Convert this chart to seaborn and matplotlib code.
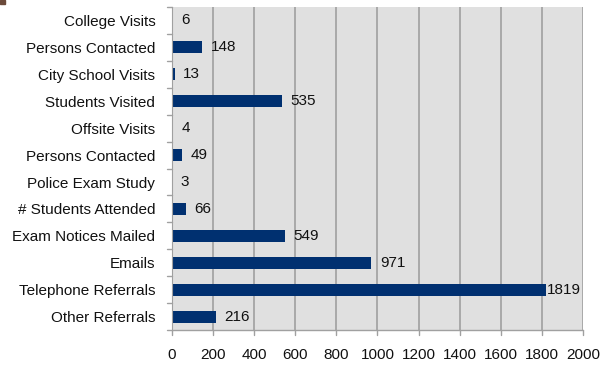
import pandas as pd
import seaborn as sns
import matplotlib.pyplot as plt
import matplotlib.patches as mpatches

categories = ['College Visits', 'Persons Contacted', 'City School Visits',
              'Students Visited', 'Offsite Visits', 'Persons Contacted ',
              'Police Exam Study', '# Students Attended', 'Exam Notices Mailed',
              'Emails', 'Telephone Referrals', 'Other Referrals']
counts = [6, 148, 13, 535, 4, 49, 3, 66, 549, 971, 1819, 216]
xticks = [0, 200, 400, 600, 800, 1000, 1200, 1400, 1600, 1800, 2000]

df = pd.DataFrame({'category': categories, 'count': counts})

sns.set_style('white')
plt.rcParams['font.family'] = ['Liberation Sans', 'DejaVu Sans']

fig = plt.figure(figsize=(6.11, 3.68), dpi=100)
ax = fig.add_axes([0.2815, 0.103, 0.6725, 0.878])
ax.set_facecolor('#e0e0e0')

sns.barplot(data=df, y='category', x='count', color='#003070', width=0.45,
            saturation=1, linewidth=0, ax=ax, zorder=3)

for i, v in enumerate(counts):
    off = 1 if v > 1800 else 6
    ax.annotate(str(v), (v, i), xytext=(off, 0), textcoords='offset points',
                va='center', ha='left', fontsize=11, color='#111111', zorder=4)

ax.set_xlim(0, 2000)
ax.set_xticks(xticks)
ax.set_xticklabels([str(t) for t in xticks], fontsize=11, color='#111111')
ax.set_yticks(range(len(categories)))
ax.set_yticklabels([c.strip() for c in categories], fontsize=11, color='#111111')
ax.set_ylim(len(categories) - 0.5, -0.5)
ax.set_xlabel('')
ax.set_ylabel('')

ax.grid(axis='x', color='#a0a0a0', linewidth=1.2, zorder=0)
ax.set_axisbelow(True)
for s in ['top', 'right', 'bottom']:
    ax.spines[s].set_visible(False)
ax.spines['left'].set_color('#a0a0a0')
ax.spines['left'].set_zorder(5)

# left ticks between categories
ax.tick_params(axis='y', length=0, pad=12)
ax.tick_params(axis='x', length=0, pad=13)
for b in range(len(categories) + 1):
    ax.plot([-0.012, 0], [b - 0.5, b - 0.5], transform=ax.get_yaxis_transform(),
            color='#a0a0a0', lw=1, clip_on=False)
for t in xticks:
    ax.plot([t, t], [0, -0.015], transform=ax.get_xaxis_transform(),
            color='#a0a0a0', lw=1, clip_on=False)
ax.plot([0, 1], [0, 0], transform=ax.transAxes, color='#a0a0a0', lw=1, clip_on=False)

fig.patches.append(mpatches.Rectangle((0, 0.99), 0.008, 0.01, transform=fig.transFigure,
                                      color='#6b4a3a', figure=fig))

fig.savefig('out.png', dpi=100)
